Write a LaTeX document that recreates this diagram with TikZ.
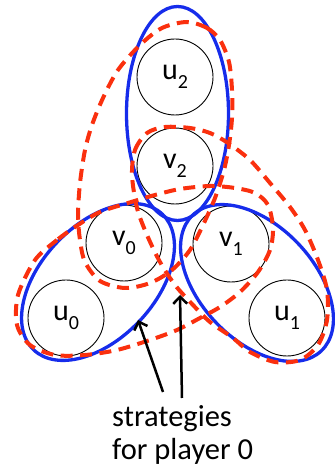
\documentclass[tikz,border=0pt]{standalone}
\usepackage{fontspec}
\setmainfont{Carlito}
\usepackage{tikz}
\usetikzlibrary{arrows.meta}
\definecolor{setblue}{RGB}{22,44,235}
\definecolor{setred}{RGB}{250,48,14}
\newcommand{\lab}[2]{#1\raisebox{-0.32em}{\fontsize{20}{20}\selectfont #2}}

\begin{document}
\begin{tikzpicture}[x=1pt, y=1pt,
  vertex/.style={circle, draw, line width=0.9pt, minimum size=76pt,
                 inner sep=0pt, font=\fontsize{30}{30}\selectfont},
  blueset/.style={setblue, line width=3.3pt},
  redset/.style={setred, line width=4pt, dash pattern=on 12pt off 7.5pt},
  pointer/.style={-{Straight Barb[length=7pt, width=14pt]}, line width=2.5pt}]
  \useasboundingbox (0,0) rectangle (334,470);
  % vertices
  \node[vertex] (u2) at (175,393) {\lab{u}{2}};
  \node[vertex] (v2) at (175,304) {\lab{v}{2}};
  \node[vertex] (v0) at (124,227) {\lab{v}{0}};
  \node[vertex] (v1) at (231,226) {\lab{v}{1}};
  \node[vertex] (u0) at (66,152) {\lab{u}{0}};
  \node[vertex] (u1) at (287,152) {\lab{u}{1}};
  % solid sets
  \draw[blueset] (177.5,356.5) ellipse [x radius=51, y radius=107];
  \draw[blueset] (98,188) ellipse [x radius=93.5, y radius=57, rotate=46.6];
  \draw[blueset] (257,187) ellipse [x radius=93.5, y radius=57, rotate=133.4];
  % dashed sets
  \draw[redset] plot[smooth cycle] coordinates {
    (187,448) (207,442) (220,430) (229,408) (232,380) (232,352) (229,325)
    (224,300) (215,272) (203,245) (190,220) (172,200) (150,187) (125,182)
    (100,189) (85,208) (80,230) (78,255) (80,287) (85,320) (92,345)
    (103,372) (118,400) (140,425) (162,442)};
  \draw[redset] plot[smooth cycle] coordinates {
    (132,295) (135,320) (147,337) (165,343) (190,342) (210,337) (228,327)
    (250,310) (270,287) (290,263) (305,240) (318,210) (327,180) (327,150)
    (318,125) (300,110) (275,108) (250,118) (233,132) (210,148) (193,165)
    (175,185) (160,208) (147,235) (137,262)};
  \draw[redset] plot[smooth cycle] coordinates {
    (78,245) (57,230) (35,210) (18,175) (17,145) (30,125) (55,115)
    (85,115) (117,120) (150,130) (177,140) (200,152) (220,163) (240,178)
    (258,198) (270,220) (273,242) (268,265) (255,277) (235,282) (210,284)
    (180,281) (155,275) (128,267) (100,258)};
  % caption
  \node[font=\fontsize{30.5}{33}\selectfont, align=left, anchor=north west,
        inner sep=0pt] (cap) at (112,65) {strategies\\for player 0};
  \coordinate (from0) at (163,78);
  \coordinate (from1) at (182,72);
  \coordinate (tip0) at (138,150);
  \coordinate (tip1) at (180,175);
  \draw[pointer] (from0) -- (tip0);
  \draw[pointer] (from1) -- (tip1);
\end{tikzpicture}
\end{document}
